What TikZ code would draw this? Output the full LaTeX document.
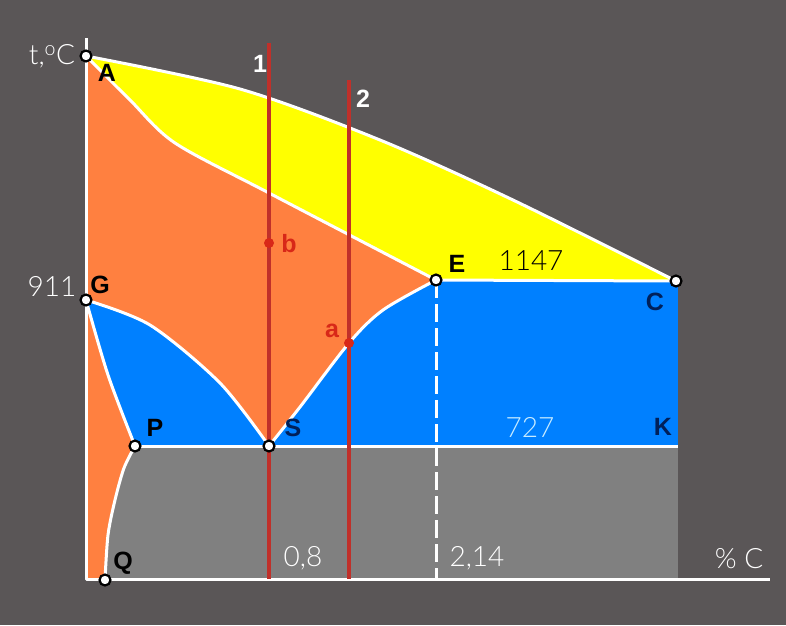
\documentclass[tikz,border=0pt]{standalone}
\usepackage{fontspec}
\setmainfont{Liberation Sans}
\newfontfamily\thinfont{Lato Light}
\usepackage{xcolor}
\usepackage{tikz}
\usetikzlibrary{calc}
\definecolor{bgx}{HTML}{5A5657}
\definecolor{yellowx}{HTML}{FFFF00}
\definecolor{orangex}{HTML}{FF8040}
\definecolor{bluex}{HTML}{0080FF}
\definecolor{grayx}{HTML}{808080}
\definecolor{redx}{HTML}{C0302A}
\definecolor{dotred}{HTML}{D82818}
\definecolor{navyx}{HTML}{00205A}
\definecolor{palex}{HTML}{C8ECFF}
\tikzset{
  bd/.style={white,line width=3pt,line join=round},
  cut/.style={redx,line width=3.5pt},
  opn/.style={circle,draw=black,fill=white,line width=2.2pt,inner sep=0pt,minimum size=11pt},
  lbl/.style={font=\fontsize{25}{25}\selectfont\bfseries,inner sep=0pt},
  num/.style={font=\fontsize{28}{28}\selectfont\thinfont,white,inner sep=0pt}
}

\begin{document}
\begin{tikzpicture}[x=1pt,y=-1pt]
\fill[bgx] (0,0) rectangle (786,625);
\useasboundingbox (0,0) rectangle (786,625);
% main points
\coordinate (A) at (86,56);
\coordinate (G) at (86,300);
\coordinate (P) at (135,446);
\coordinate (S) at (269,446);
\coordinate (E) at (436,280);
\coordinate (C) at (676,281);
\coordinate (K) at (678,446);
\coordinate (Q) at (105,580);
\coordinate (O) at (86,579);
\coordinate (L) at (86,280);
\coordinate (M) at (86,446);
\coordinate (Kb) at (678,579);
\coordinate (Eb) at (436,579);
\coordinate (Xe) at (770,579);
\coordinate (Yt) at (86,38);
% phase fields
\fill[yellowx] plot[smooth] coordinates {(A) (240,89) (380,140) (513,200) (C)} -- (E) -- (L) -- cycle;
\fill[bluex] (L) rectangle (K);
\fill[grayx] (M) rectangle (Kb);
\fill[orangex] plot[smooth] coordinates {(A) (130,100) (175,143) (269,193) (E)}
  -- plot[smooth] coordinates {(E) (383,310) (349,343) (300,407) (S)}
  -- plot[smooth] coordinates {(S) (220,383) (150,325) (G)} -- cycle;
\fill[orangex] plot[smooth] coordinates {(G) (108,375) (P)}
  -- plot[smooth] coordinates {(P) (124,468) (115,500) (108,535) (Q)} -- (O) -- cycle;
% boundaries
\draw[bd] plot[smooth] coordinates {(A) (240,89) (380,140) (513,200) (C)};
\draw[bd] plot[smooth] coordinates {(A) (130,100) (175,143) (269,193) (E)};
\draw[bd] plot[smooth] coordinates {(E) (383,310) (349,343) (300,407) (S)};
\draw[bd] plot[smooth] coordinates {(S) (220,383) (150,325) (G)};
\draw[bd] plot[smooth] coordinates {(G) (108,375) (P)};
\draw[bd] plot[smooth] coordinates {(P) (124,468) (115,500) (108,535) (Q)};
\draw[bd] (E) -- (C);
\draw[bd] (P) -- (K);
\draw[bd,dash pattern=on 18pt off 6pt] (E) -- (Eb);
\draw[bd] (Yt) -- (O) -- (Xe);
% alloy lines
\coordinate (t1) at (269,43);
\coordinate (b1) at (269,579);
\coordinate (t2) at (349,80);
\coordinate (b2) at (349,579);
\draw[cut] (t1) -- (b1);
\draw[cut] (t2) -- (b2);
\fill[dotred] (269,243) circle (5pt) (349,343) circle (5pt);
\node[lbl,white] (n1) at (260,64) {1};
\node[lbl,white] (n2) at (363,99) {2};
\node[lbl,dotred] (nb) at (289,244) {b};
\node[lbl,dotred] (na) at (332,331) {a};
% points
\foreach \p in {A,G,P,S,E,C,Q}
  \node[opn] (o\p) at (\p) {};
\node[lbl,black] (lA) at (107,73) {A};
\node[lbl,black] (lG) at (100,285) {G};
\node[lbl,black] (lE) at (457,264) {E};
\node[lbl,navyx] (lC) at (655,302) {C};
\node[lbl,black] (lP) at (155,428) {P};
\node[lbl,navyx] (lS) at (293,428) {S};
\node[lbl,navyx] (lK) at (663,427) {K};
\node[lbl,black] (lQ) at (123,563) {Q};
% values
\node[num] (tC) at (52,56) {t,\textsuperscript{o}C};
\node[num] (v911) at (52,286) {911};
\node[num,black] (v1147) at (531,261) {1147};
\node[num,palex] (v727) at (530,427) {727};
\node[num] (v08) at (303,558) {0,8};
\node[num] (v214) at (477,558) {2,14};
\node[num] (vpc) at (739,559) {\% C};
\end{tikzpicture}
\end{document}
